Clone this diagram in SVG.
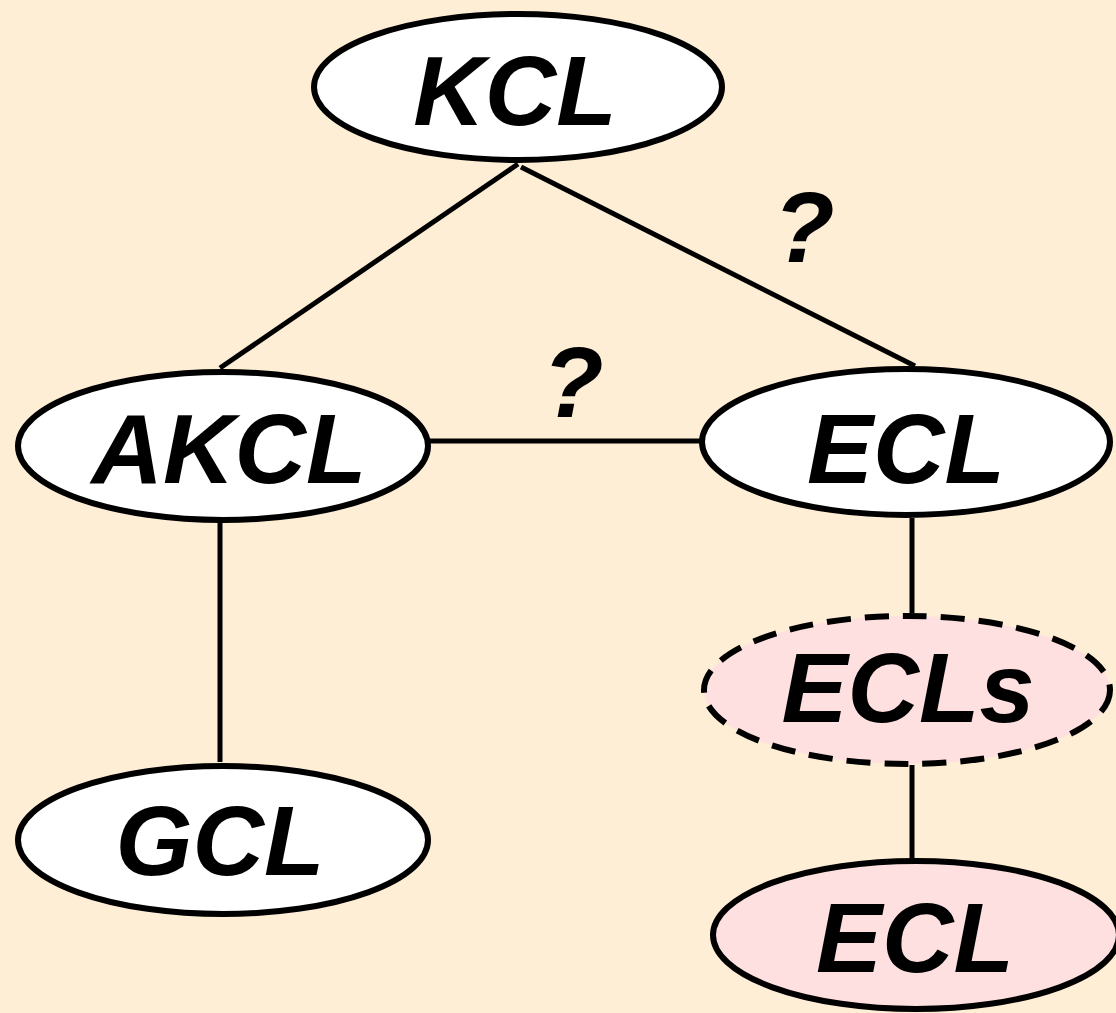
<svg xmlns="http://www.w3.org/2000/svg" width="1116" height="1013" viewBox="0 0 1116 1013">
<style>
.n{stroke:#000;stroke-width:6;fill:#fff}
.p{fill:#FFE0E0}
.d{stroke-dasharray:24 14}
.t{font-family:"Liberation Sans",Arial,sans-serif;font-weight:bold;font-style:italic;font-size:99px;fill:#000;text-anchor:middle}
.e{stroke:#000;stroke-width:5;fill:none}
</style>
<rect width="1116" height="1013" fill="#FFEED6"/>
<g id="connectors">
<line class="e" x1="518" y1="164" x2="220" y2="368"/>
<line class="e" x1="521" y1="167" x2="915" y2="366"/>
<line class="e" x1="430" y1="441" x2="705" y2="441"/>
<line class="e" x1="220" y1="518" x2="220" y2="762"/>
<line class="e" x1="912" y1="518" x2="912" y2="613"/>
<line class="e" x1="912" y1="765" x2="912" y2="860"/>
<text class="t" x="573" y="417" style="font-size:100px">?</text>
<text class="t" x="804" y="262" style="font-size:100px">?</text>
</g>
<g id="kcl"><ellipse class="n" cx="518" cy="87" rx="204" ry="73"/><text class="t" x="515" y="125">KCL</text></g>
<g id="akcl"><ellipse class="n" cx="223" cy="446" rx="205" ry="74"/><text class="t" x="229" y="483">AKCL</text></g>
<g id="ecl"><ellipse class="n" cx="906" cy="442" rx="204" ry="73"/><text class="t" x="906" y="483">ECL</text></g>
<g id="ecls"><ellipse class="n p d" cx="907" cy="690" rx="203" ry="74"/><text class="t" x="908" y="722">ECLs</text></g>
<g id="gcl"><ellipse class="n" cx="223" cy="840" rx="205" ry="74"/><text class="t" x="220" y="875">GCL</text></g>
<g id="ecl2"><ellipse class="n p" cx="916" cy="935" rx="203" ry="74"/><text class="t" x="915" y="972">ECL</text></g>
</svg>
